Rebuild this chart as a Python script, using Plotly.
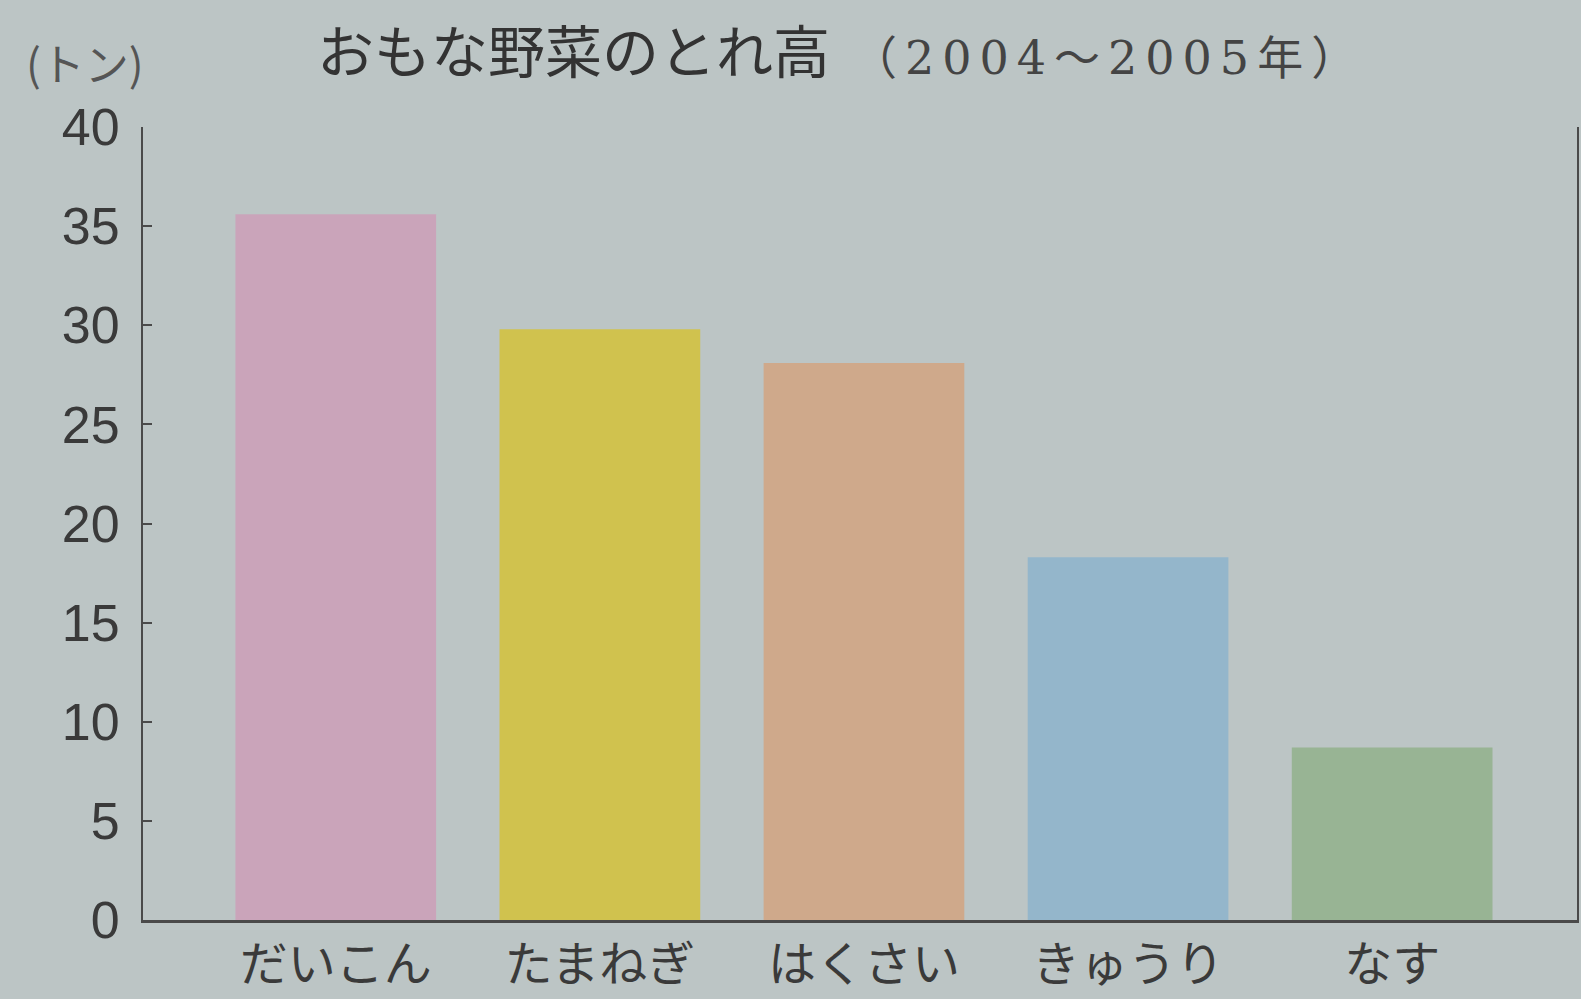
import plotly.graph_objects as go

categories = ["だいこん", "たまねぎ", "はくさい", "きゅうり", "なす"]
values = [35.6, 29.8, 28.1, 18.3, 8.7]
colors = ["#caa4ba", "#d0c24e", "#cfa98b", "#94b6cb", "#98b494"]
y_ticks = [0, 5, 10, 15, 20, 25, 30, 35, 40]

jp = "Noto Sans CJK JP"
ink = "#3a3a3a"
bg = "#bcc5c5"

fig = go.Figure(go.Bar(
    x=categories, y=values, marker=dict(color=colors, line=dict(width=0)),
    width=0.76,
))

fig.update_layout(
    width=1581, height=999,
    margin=dict(l=143, r=4, t=127, b=79),
    paper_bgcolor=bg, plot_bgcolor=bg,
    showlegend=False,
    xaxis=dict(
        range=[-0.73, 4.70], showline=True, linecolor="#4a4a4a", linewidth=3,
        ticks="", showgrid=False, ticklabelstandoff=0, automargin=False,
        tickfont=dict(family=jp, size=48, color=ink),
    ),
    yaxis=dict(
        range=[0, 40], tickvals=y_ticks, showline=True, linecolor="#4a4a4a",
        linewidth=2, mirror=True, ticks="inside", ticklen=9, tickwidth=2,
        tickcolor="#4a4a4a", ticklabelstandoff=11, automargin=False,
        showgrid=False, zeroline=False,
        tickfont=dict(family="Liberation Sans, Arial", size=52, color=ink),
    ),
    annotations=[
        dict(text="おもな野菜のとれ高", xref="paper", yref="paper",
             x=(315 - 143) / 1434, y=1.10, xanchor="left", yanchor="middle",
             showarrow=False, font=dict(family=jp, size=57, color="#333333")),
        dict(text="（2004～2005年）", xref="paper", yref="paper",
             x=(897 - 143) / 1434, y=1.087, xanchor="left", yanchor="middle",
             showarrow=False, font=dict(family="DejaVu Serif, Noto Sans CJK JP", size=46, color="#444444")),
        dict(text="(トン)", xref="paper", yref="paper",
             x=(24 - 143) / 1434, y=1.082, xanchor="left", yanchor="middle",
             showarrow=False, font=dict(family=jp, size=44, color="#555555")),
    ],
)

post = """
document.body.style.margin='0';
document.querySelectorAll('.annotation-text').forEach(function(t){
  if (t.textContent.indexOf('2004') >= 0) { t.style.letterSpacing = '8px'; }
});
"""

fig.write_html("out.html", config={"displayModeBar": False}, post_script=post)
